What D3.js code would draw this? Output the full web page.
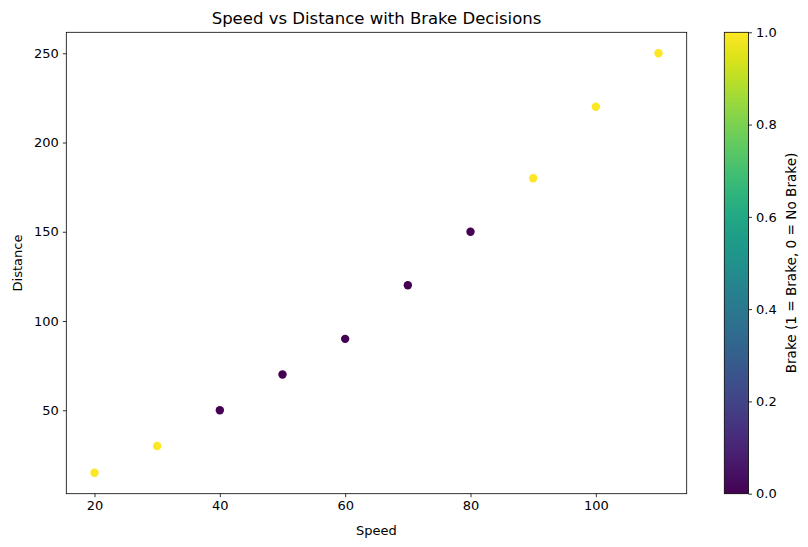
<!DOCTYPE html>
<html>
<head>
<meta charset="utf-8">
<script src="https://cdn.jsdelivr.net/npm/d3@7"></script>
<style>
  body { margin: 0; background: #fff; }
  text { font-family: "DejaVu Sans", sans-serif; }
</style>
</head>
<body>
<div id="chart"></div>
<script>
const speed = [20, 30, 40, 50, 60, 70, 80, 90, 100, 110];
const distance = [15, 30, 50, 70, 90, 120, 150, 180, 220, 250];
const brake = [1, 1, 0, 0, 0, 0, 0, 1, 1, 1];
const xTicks = [20, 40, 60, 80, 100];
const yTicks = [50, 100, 150, 200, 250];
const cTicks = [0, 0.2, 0.4, 0.6, 0.8, 1.0];

const W = 808, H = 547;
const plotLeft = 66.3, plotRight = 686.7, plotTop = 32.3, plotBottom = 493.7;
const cbLeft = 724.3, cbRight = 748.5;
const tickFont = "13px";

const svg = d3.select("#chart").append("svg")
    .attr("width", W).attr("height", H);

// matplotlib-like 5% margins
const xPad = (d3.max(speed) - d3.min(speed)) * 0.05;
const yPad = (d3.max(distance) - d3.min(distance)) * 0.05;
const x = d3.scaleLinear()
    .domain([d3.min(speed) - xPad, d3.max(speed) + xPad])
    .range([plotLeft, plotRight]);
const y = d3.scaleLinear()
    .domain([d3.min(distance) - yPad, d3.max(distance) + yPad])
    .range([plotBottom, plotTop]);
const color = d3.scaleSequential(d3.interpolateViridis).domain([0, 1]);

const xAxis = svg.append("g")
    .attr("transform", "translate(0," + plotBottom + ")")
    .call(d3.axisBottom(x).tickValues(xTicks).tickSize(3.5).tickPadding(4).tickFormat(d3.format("d")));
const yAxis = svg.append("g")
    .attr("transform", "translate(" + plotLeft + ",0)")
    .call(d3.axisLeft(y).tickValues(yTicks).tickSize(3.5).tickPadding(4).tickFormat(d3.format("d")));
[xAxis, yAxis].forEach(function (g) {
    g.select(".domain").remove();
    g.selectAll("line").attr("stroke", "#000").attr("stroke-width", 0.8);
    g.selectAll("text").style("font-size", tickFont).attr("fill", "#000")
        .style("font-family", "'DejaVu Sans', sans-serif");
});

// frame
svg.append("rect")
    .attr("x", plotLeft).attr("y", plotTop)
    .attr("width", plotRight - plotLeft).attr("height", plotBottom - plotTop)
    .attr("fill", "none").attr("stroke", "#000").attr("stroke-width", 0.8);

// points
svg.append("g").selectAll("circle")
    .data(speed.map(function (s, i) { return { s: s, d: distance[i], b: brake[i] }; }))
    .enter().append("circle")
    .attr("cx", function (d) { return x(d.s); })
    .attr("cy", function (d) { return y(d.d); })
    .attr("r", 4.2)
    .attr("fill", function (d) { return color(d.b); });

// titles
svg.append("text")
    .attr("x", (plotLeft + plotRight) / 2).attr("y", plotTop - 8)
    .attr("text-anchor", "middle")
    .style("font-size", "16.5px")
    .text("Speed vs Distance with Brake Decisions");
svg.append("text")
    .attr("x", (plotLeft + plotRight) / 2).attr("y", 535)
    .attr("text-anchor", "middle")
    .style("font-size", tickFont)
    .text("Speed");
svg.append("text")
    .attr("transform", "translate(21.5," + ((plotTop + plotBottom) / 2) + ") rotate(-90)")
    .attr("text-anchor", "middle")
    .style("font-size", tickFont)
    .text("Distance");

// colorbar
const grad = svg.append("defs").append("linearGradient")
    .attr("id", "viridis").attr("x1", 0).attr("y1", 1).attr("x2", 0).attr("y2", 0);
d3.range(0, 1.0001, 0.05).forEach(function (t) {
    grad.append("stop").attr("offset", t).attr("stop-color", color(t));
});
svg.append("rect")
    .attr("x", cbLeft).attr("y", plotTop)
    .attr("width", cbRight - cbLeft).attr("height", plotBottom - plotTop)
    .attr("fill", "url(#viridis)")
    .attr("stroke", "#000").attr("stroke-width", 0.8);
const c = d3.scaleLinear().domain([0, 1]).range([plotBottom, plotTop]);
const cAxis = svg.append("g")
    .attr("transform", "translate(" + cbRight + ",0)")
    .call(d3.axisRight(c).tickValues(cTicks).tickSize(3.5).tickPadding(4).tickFormat(d3.format(".1f")));
cAxis.select(".domain").remove();
cAxis.selectAll("line").attr("stroke", "#000").attr("stroke-width", 0.8);
cAxis.selectAll("text").style("font-size", tickFont).attr("fill", "#000")
    .style("font-family", "'DejaVu Sans', sans-serif");
svg.append("text")
    .attr("transform", "translate(795.5," + ((plotTop + plotBottom) / 2) + ") rotate(-90)")
    .attr("text-anchor", "middle")
    .style("font-size", "13.6px")
    .text("Brake (1 = Brake, 0 = No Brake)");
</script>
</body>
</html>
